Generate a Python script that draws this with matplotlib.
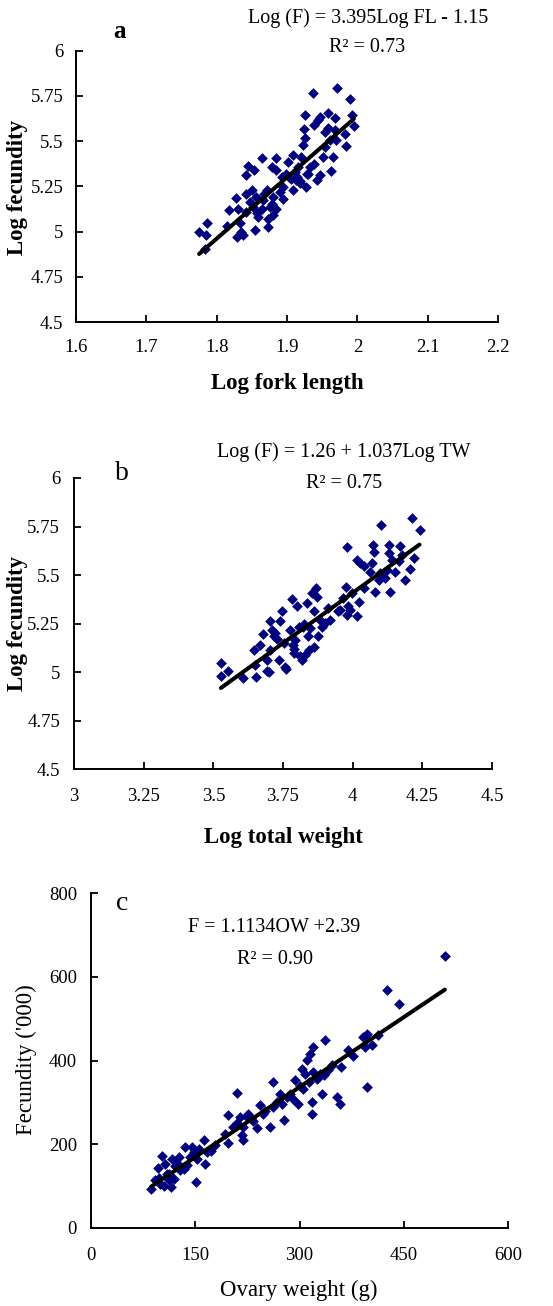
import matplotlib
matplotlib.use("Agg")
import matplotlib.pyplot as plt
import numpy as np

plt.rcParams['font.family'] = ['Liberation Serif', 'DejaVu Serif']

# ---------------- Panel a data ----------------
fl_x = [1.775, 1.786, 1.784, 1.785, 1.814, 1.818, 1.827, 1.830, 1.829, 1.833,
        1.837, 1.835, 1.841, 1.842, 1.845, 1.853, 1.850, 1.842, 1.847, 1.854,
        1.857, 1.859, 1.852, 1.864, 1.864, 1.866, 1.871, 1.873, 1.873, 1.876,
        1.878, 1.880, 1.880, 1.885, 1.885, 1.885, 1.890, 1.895, 1.894, 1.898,
        1.902, 1.903, 1.909, 1.909, 1.911, 1.913, 1.916, 1.918, 1.920, 1.923,
        1.924, 1.926, 1.925, 1.927, 1.928, 1.932, 1.937, 1.939, 1.939, 1.942,
        1.944, 1.947, 1.947, 1.951, 1.954, 1.954, 1.958, 1.958, 1.961, 1.962,
        1.966, 1.968, 1.970, 1.971, 1.982, 1.984, 1.989, 1.992, 1.995, 1.968,
        1.906, 1.914, 1.919, 1.868, 1.878, 1.856, 1.893, 1.930]
fl_y = [4.995, 5.048, 4.906, 4.980, 5.030, 5.118, 5.186, 5.127, 4.970, 5.050,
        4.980, 5.000, 5.210, 5.315, 5.364, 5.343, 5.228, 5.109, 5.164, 5.007,
        5.100, 5.080, 5.136, 5.408, 5.127, 5.173, 5.228, 5.026, 5.072, 5.136,
        5.358, 5.192, 5.090, 5.408, 5.340, 5.127, 5.220, 5.179, 5.247, 5.321,
        5.386, 5.303, 5.426, 5.228, 5.330, 5.284, 5.358, 5.266, 5.413, 5.478,
        5.565, 5.644, 5.515, 5.247, 5.321, 5.358, 5.764, 5.376, 5.589, 5.284,
        5.617, 5.635, 5.312, 5.413, 5.469, 5.552, 5.653, 5.570, 5.506, 5.336,
        5.413, 5.626, 5.506, 5.795, 5.542, 5.474, 5.731, 5.644, 5.583, 5.561,
        5.290, 5.300, 5.280, 5.210, 5.150, 5.190, 5.300, 5.320]

# ---------------- Panel b data ----------------
tw_x = [3.527, 3.527, 3.554, 3.608, 3.646, 3.650, 3.654, 3.668, 3.680, 3.692,
        3.692, 3.698, 3.702, 3.704, 3.710, 3.716, 3.728, 3.734, 3.740, 3.746,
        3.752, 3.758, 3.761, 3.776, 3.782, 3.785, 3.788, 3.794, 3.800, 3.806,
        3.812, 3.818, 3.824, 3.830, 3.836, 3.838, 3.842, 3.848, 3.854, 3.860,
        3.862, 3.869, 3.871, 3.874, 3.884, 3.890, 3.901, 3.920, 3.913, 3.949,
        3.967, 3.977, 3.979, 3.979, 3.985, 3.989, 3.997, 4.015, 4.015, 4.021,
        4.027, 4.039, 4.042, 4.063, 4.069, 4.073, 4.075, 4.081, 4.093, 4.099,
        4.103, 4.117, 4.123, 4.129, 4.132, 4.135, 4.141, 4.153, 4.165, 4.171,
        4.177, 4.189, 4.204, 4.213, 4.219, 4.240, 3.790, 3.820, 3.722, 3.956]
tw_y = [5.045, 4.980, 5.007, 4.968, 5.114, 5.037, 4.976, 5.140, 5.197, 5.062,
        5.007, 5.002, 5.265, 5.114, 5.218, 5.183, 5.169, 5.062, 5.265, 5.315,
        5.148, 5.028, 5.014, 5.217, 5.377, 5.140, 5.097, 5.166, 5.338, 5.234,
        5.080, 5.062, 5.248, 5.088, 5.358, 5.183, 5.114, 5.226, 5.407, 5.312,
        5.131, 5.432, 5.389, 5.183, 5.269, 5.234, 5.255, 5.269, 5.329, 5.312,
        5.381, 5.437, 5.644, 5.295, 5.338, 5.320, 5.407, 5.290, 5.578, 5.363,
        5.561, 5.432, 5.544, 5.518, 5.561, 5.653, 5.616, 5.412, 5.475, 5.510,
        5.759, 5.484, 5.527, 5.613, 5.656, 5.410, 5.578, 5.518, 5.570, 5.647,
        5.604, 5.475, 5.530, 5.794, 5.587, 5.733, 5.120, 5.230, 5.200, 5.320]

# ---------------- Panel c data ----------------
ow_x = [86.7, 92.4, 95.8, 102.0, 99.6, 104.4, 106.8, 109.2, 111.6, 114.9,
        116.4, 118.8, 121.2, 126.0, 128.4, 133.1, 135.5, 137.9, 145.1, 147.5,
        151.3, 152.3, 156.1, 161.9, 164.3, 166.7, 178.6, 193.0, 197.8, 197.8,
        205.0, 209.8, 210.7, 214.6, 217.0, 219.3, 219.3, 224.1, 226.5, 233.7,
        238.5, 243.3, 248.0, 250.4, 257.7, 262.5, 262.5, 272.0, 274.5, 277.0,
        281.6, 286.4, 291.2, 293.6, 298.4, 303.2, 305.6, 308.0, 310.3, 314.2,
        315.1, 317.5, 317.5, 319.0, 319.9, 324.7, 329.5, 331.9, 336.7, 341.5,
        346.3, 353.4, 358.2, 370.2, 376.4, 391.8, 394.2, 396.6, 396.6, 403.7,
        413.3, 425.3, 443.5, 509.1, 98.0, 112.0, 124.0, 142.0, 172.0, 230.0,
        268.0, 300.0, 335.0, 360.0]
ow_y = [93.9, 113.8, 144.0, 171.0, 105.9, 99.5, 153.6, 129.8, 113.8, 97.9,
        165.6, 117.8, 147.3, 169.5, 137.7, 141.7, 193.4, 149.6, 193.4, 181.5,
        109.8, 165.6, 189.4, 209.3, 153.6, 181.5, 197.4, 225.3, 269.0, 203.0,
        241.0, 250.8, 322.4, 265.0, 221.3, 209.3, 241.0, 265.0, 273.0, 255.5,
        239.6, 293.0, 273.0, 279.4, 241.2, 348.7, 289.0, 320.8, 297.0, 257.0,
        312.9, 320.8, 308.9, 352.6, 297.0, 380.5, 332.8, 368.6, 400.4, 348.7,
        416.4, 301.0, 273.0, 372.6, 432.3, 356.7, 368.6, 320.8, 448.2, 376.5,
        388.5, 312.9, 297.0, 424.3, 409.9, 456.2, 432.3, 336.8, 464.1, 436.3,
        460.1, 567.6, 534.2, 649.6, 120.0, 128.0, 155.0, 170.0, 185.0, 262.0,
        300.0, 340.0, 365.0, 385.0]

# regression coefficients (from the printed equations)
a_slope, a_int = 3.395, -1.15
b_slope, b_int = 1.037, 1.26
c_slope, c_int = 1.1134, 2.39

a_xticks = [1.6, 1.7, 1.8, 1.9, 2.0, 2.1, 2.2]
a_xlabels = ['1.6', '1.7', '1.8', '1.9', '2', '2.1', '2.2']
ab_yticks = [4.5, 4.75, 5.0, 5.25, 5.5, 5.75, 6.0]
ab_ylabels = ['4.5', '4.75', '5', '5.25', '5.5', '5.75', '6']
b_xticks = [3.0, 3.25, 3.5, 3.75, 4.0, 4.25, 4.5]
b_xlabels = ['3', '3.25', '3.5', '3.75', '4', '4.25', '4.5']
c_xticks = [0, 150, 300, 450, 600]
c_yticks = [0, 200, 400, 600, 800]

W, H = 553, 1306
fig = plt.figure(figsize=(W / 100, H / 100), dpi=100)


def box(l, r, t, b):
    return [l / W, 1 - b / H, (r - l) / W, (b - t) / H]


def ftext(x, y, s, **kw):
    fig.text(x / W, 1 - y / H, s, ha='center', va='center', **kw)


NAVY = '#00007f'


def style(ax, xt, xl, yt, yl, xpad, ypad):
    for s in ['top', 'right']:
        ax.spines[s].set_visible(False)
    for s in ['left', 'bottom']:
        ax.spines[s].set_linewidth(1.4)
    ax.set_xticks(xt)
    ax.set_xticklabels(xl)
    ax.set_yticks(yt)
    ax.set_yticklabels(yl)
    ax.tick_params(axis='both', direction='in', length=5, width=1.3,
                   labelsize=13.5, colors='black')
    ax.tick_params(axis='x', pad=xpad)
    ax.tick_params(axis='y', pad=ypad)


def draw(ax, xs, ys, slope, inter):
    ax.scatter(xs, ys, marker='D', s=30, color=NAVY, linewidths=0, zorder=2,
               clip_on=False)
    x0, x1 = min(xs), max(xs)
    xx = np.array([x0, x1])
    ax.plot(xx, slope * xx + inter, color='black', lw=2.9, zorder=3,
            solid_capstyle='round')


# Panel a
ax1 = fig.add_axes(box(76, 498, 50.7, 322))
draw(ax1, fl_x, fl_y, a_slope, a_int)
ax1.set_xlim(1.6, 2.2)
ax1.set_ylim(4.5, 6.0)
style(ax1, a_xticks, a_xlabels, ab_yticks, ab_ylabels, 12, 9)
ftext(18, 187, 'Log fecundity', rotation=90, fontsize=16.5, fontweight='bold')
ftext(287, 383, 'Log fork length', fontsize=16.5, fontweight='bold')
ftext(120, 31, 'a', fontsize=18, fontweight='bold')
ftext(368, 18, 'Log (F) = 3.395Log FL - 1.15', fontsize=14.5)
ftext(367, 48, 'R² = 0.73', fontsize=14.5)

# Panel b
ax2 = fig.add_axes(box(74, 492, 478, 769))
draw(ax2, tw_x, tw_y, b_slope, b_int)
ax2.set_xlim(3.0, 4.5)
ax2.set_ylim(4.5, 6.0)
style(ax2, b_xticks, b_xlabels, ab_yticks, ab_ylabels, 14, 10)
ftext(18, 623, 'Log fecundity', rotation=90, fontsize=16.5, fontweight='bold')
ftext(283, 837, 'Log total weight', fontsize=16.5, fontweight='bold')
ftext(122, 474, 'b', fontsize=20)
ftext(344, 452, 'Log (F) = 1.26 + 1.037Log TW', fontsize=14.5)
ftext(344, 483, 'R² = 0.75', fontsize=14.5)

# Panel c
ax3 = fig.add_axes(box(91, 508, 893, 1228))
draw(ax3, ow_x, ow_y, c_slope, c_int)
ax3.set_xlim(0, 600)
ax3.set_ylim(0, 800)
style(ax3, c_xticks, [str(v) for v in c_xticks], c_yticks,
      [str(v) for v in c_yticks], 14, 10)
ftext(26, 1060, "Fecundity ('000)", rotation=90, fontsize=16.5)
ftext(299, 1290, 'Ovary weight (g)', fontsize=16.5)
ftext(122, 903, 'c', fontsize=20)
ftext(274, 928, 'F = 1.1134OW +2.39', fontsize=14.5)
ftext(275, 959, 'R² = 0.90', fontsize=14.5)

fig.savefig('out.png', dpi=100)
